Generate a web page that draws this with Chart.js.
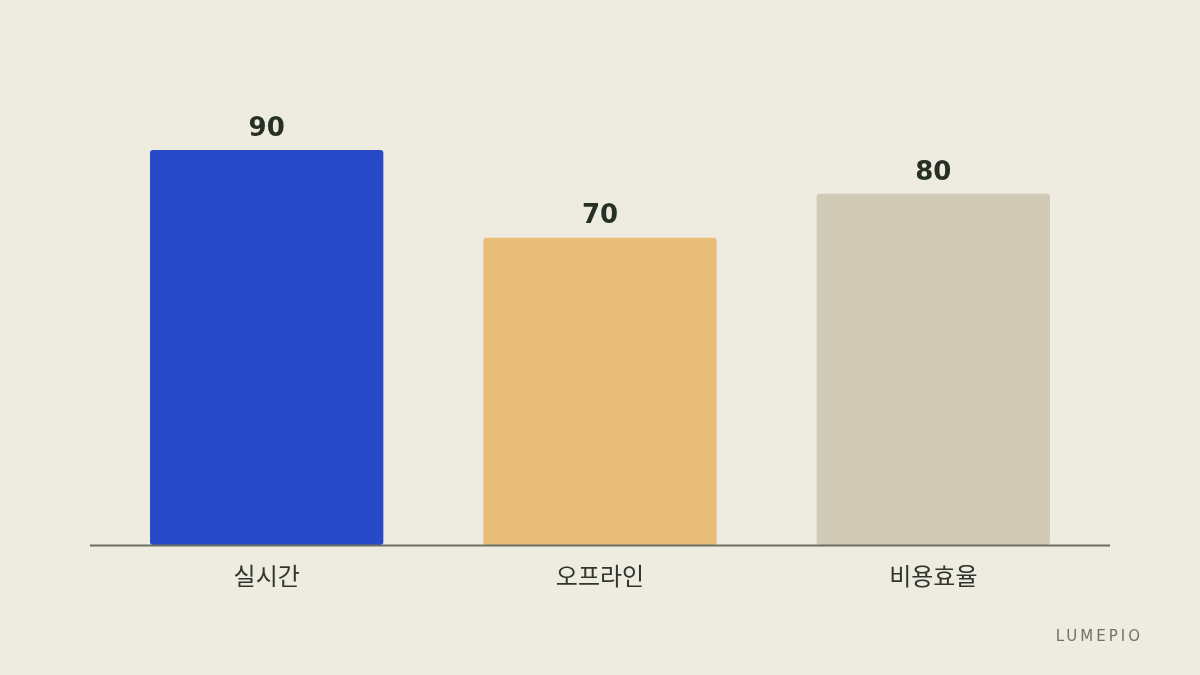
<!DOCTYPE html>
<html>
<head>
<meta charset="utf-8">
<script src="https://cdn.jsdelivr.net/npm/chart.js@4"></script>
<style>
html,body{margin:0;padding:0;background:#EEEBE0;}
#wrap{width:1200px;height:675px;position:relative;}
</style>
</head>
<body>
<div id="wrap"><canvas id="c" width="1200" height="675"></canvas></div>
<script>
const categories = ['실시간', '오프라인', '비용효율'];
const values = [90, 70, 80];
const barColors = ['#2849C8', '#E7BD78', '#D0CAB6'];
const watermark = 'LUMEPIO';

const overlay = {
  id: 'overlay',
  afterDatasetsDraw(chart) {
    const ctx = chart.ctx;
    const x = chart.scales.x, y = chart.scales.y;
    const base = y.getPixelForValue(0);
    ctx.save();
    // baseline
    ctx.strokeStyle = '#6B7062';
    ctx.lineWidth = 2;
    ctx.beginPath();
    ctx.moveTo(90, base + 0.5);
    ctx.lineTo(1110, base + 0.5);
    ctx.stroke();
    // value labels
    ctx.fillStyle = '#263024';
    ctx.font = 'bold 26px "DejaVu Sans", sans-serif';
    ctx.textAlign = 'center';
    ctx.textBaseline = 'middle';
    values.forEach((v, i) => {
      ctx.fillText(String(v), x.getPixelForValue(i), y.getPixelForValue(v) - 21);
    });
    // category labels
    ctx.fillStyle = '#30352E';
    ctx.font = '24px "DejaVu Sans", "Noto Sans CJK KR", sans-serif';
    categories.forEach((c, i) => {
      ctx.fillText(c, x.getPixelForValue(i), base + 34);
    });
    // watermark
    ctx.fillStyle = '#6E7366';
    ctx.font = '15px "DejaVu Sans", sans-serif';
    ctx.textAlign = 'right';
    ctx.letterSpacing = '3px';
    ctx.fillText(watermark, 1143, 637);
    ctx.restore();
  }
};

new Chart(document.getElementById('c'), {
  type: 'bar',
  data: {
    labels: categories,
    datasets: [{
      data: values,
      backgroundColor: barColors,
      borderRadius: 3,
      borderSkipped: false,
      barPercentage: 0.7,
      categoryPercentage: 1.0
    }]
  },
  options: {
    responsive: false,
    animation: false,
    devicePixelRatio: 1,
    layout: { padding: { left: 100, right: 100, top: 106, bottom: 130 } },
    plugins: { legend: { display: false }, tooltip: { enabled: false } },
    scales: {
      x: { display: false },
      y: { display: false, min: 0, max: 100 }
    }
  },
  plugins: [overlay]
});
</script>
</body>
</html>
